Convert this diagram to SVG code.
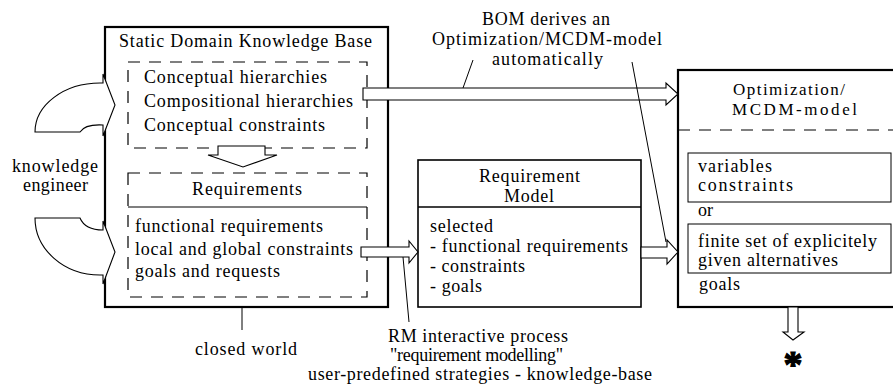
<svg xmlns="http://www.w3.org/2000/svg" width="893" height="387" viewBox="0 0 893 387">
<style>
text { font-family: "Liberation Serif", "Times New Roman", serif; font-size: 18px; fill: #000; }
.box { fill: #fff; stroke: #000; }
.thick { stroke-width: 2.2; }
.med { stroke-width: 1.6; }
.thin { stroke-width: 1; }
.dash { fill: none; stroke: #000; stroke-width: 1.2; stroke-dasharray: 12 9; }
.harrow { fill: #fff; stroke: #000; stroke-width: 1.1; stroke-linejoin: miter; }
.lead { fill: none; stroke: #000; stroke-width: 1; }
.star { font-size: 38px; font-weight: bold; text-anchor: middle; stroke: #000; stroke-width: 1.2; }
.small { font-size: 17px; }
</style>
<rect width="893" height="387" fill="#fff"/>

<g id="static-kb">
  <rect class="box thick" x="105" y="27" width="283" height="280"/>
  <text x="119" y="47" textLength="253">Static Domain Knowledge Base</text>
  <rect class="dash" x="128" y="62" width="239" height="86"/>
  <text x="144" y="83" textLength="183">Conceptual hierarchies</text>
  <text x="144" y="107" textLength="209">Compositional hierarchies</text>
  <text x="144" y="131" textLength="181">Conceptual constraints</text>
  <path class="harrow" d="M218,146 L265,146 L265,155 L277,155 L243,167 L208,155 L218,155 Z"/>
  <rect class="dash" x="128" y="173" width="239" height="124"/>
  <line x1="128" y1="207" x2="367" y2="207" stroke="#000" stroke-width="1.2"/>
  <text x="192" y="195" textLength="110">Requirements</text>
  <text x="135" y="232" textLength="188">functional requirements</text>
  <text x="135" y="255" textLength="218">local and global constraints</text>
  <text x="135" y="277" textLength="145">goals and requests</text>
</g>

<g id="closed-world">
  <text x="195" y="355" textLength="102">closed world</text>
</g>

<g id="knowledge-engineer">
  <text x="12" y="172" textLength="86">knowledge</text>
  <text x="23" y="191" textLength="65">engineer</text>
</g>

<g id="requirement-model">
  <rect class="box med" x="418" y="160" width="223" height="147"/>
  <line x1="418" y1="207" x2="641" y2="207" stroke="#000" stroke-width="1.6"/>
  <text x="479" y="182" textLength="101">Requirement</text>
  <text x="504" y="202" textLength="50">Model</text>
  <text x="430" y="232" textLength="63">selected</text>
  <text x="430" y="252" textLength="198">- functional requirements</text>
  <text x="430" y="272" textLength="95">- constraints</text>
  <text x="430" y="292" textLength="52">- goals</text>
</g>

<g id="optimization-model">
  <rect class="box thick" x="678" y="70" width="230" height="237"/>
  <text class="small" x="733" y="95" textLength="112">Optimization/</text>
  <text class="small" x="732" y="115" textLength="125">MCDM-model</text>
  <line class="dash" x1="678" y1="130" x2="893" y2="130"/>
  <rect class="box thin" x="688" y="153" width="203" height="49"/>
  <text x="698" y="172" textLength="74">variables</text>
  <text x="698" y="191" textLength="95">constraints</text>
  <text x="698" y="216">or</text>
  <rect class="box thin" x="688" y="224" width="203" height="49"/>
  <text x="698" y="247" textLength="179">finite set of explicitely</text>
  <text x="698" y="266" textLength="140">given alternatives</text>
  <text x="699" y="290" textLength="41">goals</text>
</g>

<g id="result">
  <text class="star" x="793" y="377">*</text>
</g>

<g id="bom-label">
  <text x="482" y="25" textLength="128">BOM derives an</text>
  <text x="432" y="45" textLength="230">Optimization/MCDM-model</text>
  <text x="492" y="65" textLength="111">automatically</text>
</g>

<g id="rm-label">
  <text x="388" y="342" textLength="180">RM interactive process</text>
  <text x="390" y="361" textLength="173">"requirement modelling"</text>
  <text x="308" y="380" textLength="344">user-predefined strategies - knowledge-base</text>
</g>

<g id="connectors">
  <path class="harrow" d="M35,132 L80,132 Q85,124 103,125 L103,136 L115,105 L103,74 L103,83 L100,83 A65 49 0 0 0 35,132 Z"/>
  <path class="harrow" d="M35,218 L80,218 Q85,230 103,230 L103,221 L115,252 L103,284 L103,275 L100,275 A65 57 0 0 1 35,218 Z"/>
  <line class="lead" x1="242" y1="307" x2="242" y2="330"/>
  <path class="harrow" d="M363,88 L666,88 L666,83 L678,94 L666,105 L666,100 L363,100 Z"/>
  <path class="harrow" d="M361,247 L409,247 L409,241 L418,252 L409,263 L409,257 L361,257 Z"/>
  <path class="harrow" d="M641,247 L667,247 L667,240 L678,252 L667,264 L667,258 L641,258 Z"/>
  <path class="harrow" d="M788,307 L798,307 L798,332 L804,332 L793,340 L783,332 L788,332 Z"/>
  <line class="lead" x1="473" y1="60" x2="463" y2="88"/>
  <line class="lead" x1="632" y1="62" x2="666" y2="242"/>
  <line class="lead" x1="403" y1="257" x2="409" y2="322"/>
</g>
</svg>
